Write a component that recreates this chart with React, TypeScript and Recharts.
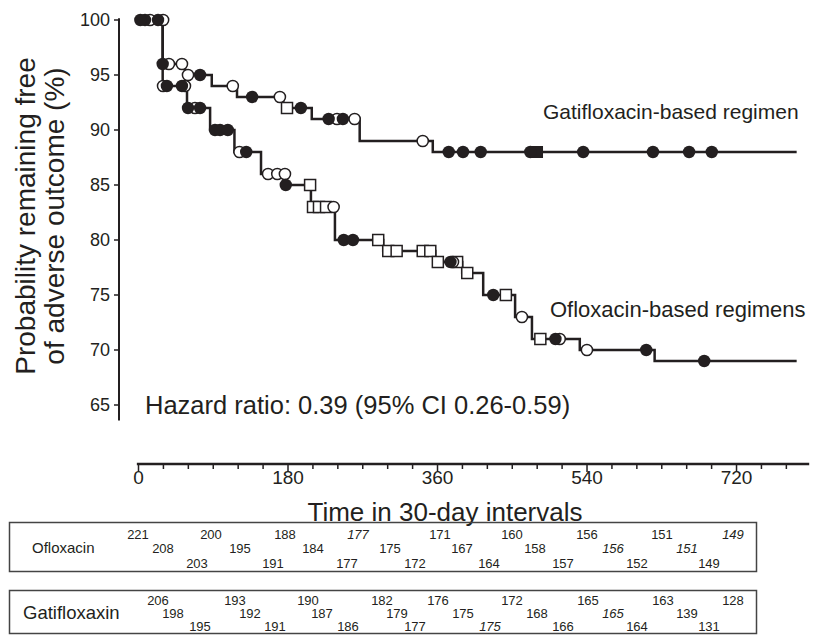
import React from 'react';
import { ComposedChart, Line, Scatter, XAxis, YAxis, ReferenceLine } from 'recharts';

const INK = '#231f20';
const FONT = '"Liberation Sans", Arial, Helvetica, sans-serif';

// Kaplan-Meier steps: time (days) where the level starts, % free of adverse outcome
const gatiTimes = [0, 29.1, 55.9, 88.2, 118.6, 174.2, 208.6, 266.3, 354.3, 792.4];
const gatiValues = [100, 96, 95, 94, 93, 92, 91, 89, 88, 88];
const ofloxTimes = [0, 29.1, 58.4, 86.2, 115.5, 147.5, 176.3, 207.6, 236.5, 294.6, 357.3, 389.7, 415, 453.4, 473.7, 531.3, 621.4, 792.4];
const ofloxValues = [100, 94, 92, 90, 88, 86, 85, 83, 80, 79, 78, 77, 75, 73, 71, 70, 69, 69];

// censoring marks [time, %]
const gatiDots = [[2.2, 100], [23.5, 100], [29.1, 96], [74.1, 95], [136.8, 93], [195.5, 92], [228.9, 91], [246.1, 91], [373.5, 88], [390.7, 88], [412, 88], [471.7, 88], [535.4, 88], [619.4, 88], [662.9, 88], [690.2, 88]];
const gatiCircles = [[29.6, 100], [36.6, 96], [52.3, 96], [59.6, 95], [113.5, 94], [170.2, 93], [239, 91], [260.2, 91], [342.2, 89]];
const gatiSquares = [[178.8, 92]];
const gatiSolidSquares = [[479.8, 88]];
const ofloxDots = [[7.8, 100], [34.2, 94], [52.3, 94], [59.6, 92], [74.1, 92], [92.1, 90], [98.2, 90], [107.5, 90], [129.7, 88], [177.3, 85], [247.1, 80], [258.2, 80], [375.6, 78], [427.1, 75], [502, 71], [611.3, 70], [681.1, 69]];
const ofloxCircles = [[13.9, 100], [29.6, 94], [55.9, 94], [68, 92], [121.6, 88], [156, 86], [167.1, 86], [176.3, 86], [234.9, 83], [378.6, 78], [461.6, 73], [507.1, 71], [539.9, 70]];
const ofloxSquares = [[206.6, 85], [210.1, 83], [217.3, 83], [225.8, 83], [288.6, 80], [300.7, 79], [310.8, 79], [342.2, 79], [351.3, 79], [360.4, 78], [383.6, 78], [395.8, 77], [442.3, 75], [483.8, 71]];

const xTicks = [0, 30, 60, 90, 120, 150, 180, 210, 240, 270, 300, 330, 360, 390, 420, 450, 480, 510, 540, 570, 600, 630, 660, 690, 720, 750, 780];
const yTicks = [65, 70, 75, 80, 85, 90, 95, 100];

// numbers at risk, three staggered rows each
const ofloxTop = [221, 200, 188, 177, 171, 160, 156, 151, 149];
const ofloxMid = [208, 195, 184, 175, 167, 158, 156, 151];
const ofloxLow = [203, 191, 177, 172, 164, 157, 152, 149];
const gatiTop = [206, 193, 190, 182, 176, 172, 165, 163, 128];
const gatiMid = [198, 192, 187, 179, 175, 168, 165, 139];
const gatiLow = [195, 191, 186, 177, 175, 166, 164, 131];

// x positions of the table numbers
const ofloxTopX = [138, 211, 285, 358, 440, 512, 587, 662, 733];
const ofloxMidX = [163, 240, 313, 390, 462, 535, 613, 687];
const ofloxLowX = [197, 273, 347, 415, 489, 563, 637, 709];
const gatiTopX = [158, 235, 308, 382, 438, 512, 588, 663, 733];
const gatiMidX = [173, 250, 322, 397, 463, 537, 613, 687];
const gatiLowX = [200, 275, 348, 415, 490, 563, 637, 709];

const toSteps = (ts: number[], vs: number[]) => ts.map((t, i) => ({ t, v: vs[i] }));
const toPts = (arr: number[][]) => arr.map(([t, v]) => ({ t, v }));

const Y_MIN = 100 - 444 / 11;
const X_MIN = -23.48;
const X_MAX = 807.5;

const dotShape = (p: any) => <circle cx={p.cx} cy={p.cy} r={6.2} fill={INK} />;
const ringShape = (p: any) => <circle cx={p.cx} cy={p.cy} r={5.6} fill="#fff" stroke={INK} strokeWidth={1.5} />;
const squareShape = (p: any) => (
  <rect x={p.cx - 5.5} y={p.cy - 5.5} width={11} height={11} fill="#fff" stroke={INK} strokeWidth={1.5} />
);
const solidSquareShape = (p: any) => (
  <rect x={p.cx - 6} y={p.cy - 6} width={12} height={12} fill={INK} />
);

const XTick = (props: any) => {
  const { x, y, payload } = props;
  const major = payload.value % 180 === 0;
  return (
    <g>
      <line x1={x} y1={y} x2={x} y2={y + (major ? 8 : 5)} stroke={INK} strokeWidth={1.5} />
      {major && (
        <text x={x} y={y + 20} textAnchor="middle" fontSize={19} fill={INK} fontFamily={FONT}>
          {payload.value}
        </text>
      )}
    </g>
  );
};

function RiskRow({ values, xs, y, italic }: { values: number[]; xs: number[]; y: number; italic: number[] }) {
  return (
    <>
      {values.map((n, i) => (
        <text key={i} x={xs[i]} y={y} textAnchor="middle" fontSize={13} fill={INK} fontStyle={italic.includes(i) ? 'italic' : 'normal'}>
          {n}
        </text>
      ))}
    </>
  );
}

export default function App() {
  return (
    <div style={{ position: 'absolute', left: 0, top: 0, width: 813, height: 635, background: '#fff', fontFamily: FONT }}>
      <ComposedChart width={813} height={540} margin={{ top: 20, right: 3.8, bottom: 0, left: 0 }}>
        <XAxis
          type="number"
          dataKey="t"
          domain={[X_MIN, X_MAX]}
          ticks={xTicks}
          interval={0}
          axisLine={false}
          tickLine={false}
          tickSize={0}
          tickMargin={0}
          height={76}
          tick={<XTick />}
        />
        <YAxis
          type="number"
          dataKey="v"
          domain={[Y_MIN, 100]}
          ticks={yTicks}
          interval={0}
          width={119}
          axisLine={false}
          tickSize={5}
          tickMargin={4}
          tickLine={{ stroke: INK, strokeWidth: 1.5 }}
          tick={{ fill: INK, fontSize: 18, fontFamily: FONT }}
        />
        <ReferenceLine
          segment={[{ x: X_MIN, y: 63.6 }, { x: X_MIN, y: 100.15 }]}
          stroke={INK}
          strokeWidth={2}
          ifOverflow="visible"
        />
        <ReferenceLine
          segment={[{ x: -2, y: Y_MIN }, { x: X_MAX, y: Y_MIN }]}
          stroke={INK}
          strokeWidth={2.5}
          ifOverflow="visible"
        />
        <Line data={toSteps(gatiTimes, gatiValues)} dataKey="v" type="stepAfter" stroke={INK} strokeWidth={2.5} dot={false} isAnimationActive={false} />
        <Line data={toSteps(ofloxTimes, ofloxValues)} dataKey="v" type="stepAfter" stroke={INK} strokeWidth={2.5} dot={false} isAnimationActive={false} />
        <Scatter data={toPts(ofloxSquares)} dataKey="v" shape={squareShape} isAnimationActive={false} />
        <Scatter data={toPts(gatiSquares)} dataKey="v" shape={squareShape} isAnimationActive={false} />
        <Scatter data={toPts(gatiSolidSquares)} dataKey="v" shape={solidSquareShape} isAnimationActive={false} />
        <Scatter data={toPts(ofloxCircles)} dataKey="v" shape={ringShape} isAnimationActive={false} />
        <Scatter data={toPts(gatiCircles)} dataKey="v" shape={ringShape} isAnimationActive={false} />
        <Scatter data={toPts(ofloxDots)} dataKey="v" shape={dotShape} isAnimationActive={false} />
        <Scatter data={toPts(gatiDots)} dataKey="v" shape={dotShape} isAnimationActive={false} />
      </ComposedChart>

      <svg width={813} height={635} style={{ position: 'absolute', left: 0, top: 0, pointerEvents: 'none' }} fontFamily={FONT}>
        <text transform="translate(35,216) rotate(-90)" textAnchor="middle" fontSize={28} fill={INK}>
          Probability remaining free
        </text>
        <text transform="translate(64,216) rotate(-90)" textAnchor="middle" fontSize={28} fill={INK}>
          of adverse outcome (%)
        </text>
        <text x={145} y={414} fontSize={25.5} fill={INK}>Hazard ratio: 0.39 (95% CI 0.26-0.59)</text>
        <text x={543} y={119} fontSize={21} fill={INK}>Gatifloxacin-based regimen</text>
        <text x={550} y={317} fontSize={22} fill={INK}>Ofloxacin-based regimens</text>
        <text x={445} y={521} textAnchor="middle" fontSize={26} fill={INK}>Time in 30-day intervals</text>

        <rect x={9.5} y={522.5} width={747} height={49} fill="none" stroke="#444" strokeWidth={1.5} />
        <text x={32} y={553} fontSize={15} fill={INK}>Ofloxacin</text>
        <RiskRow values={ofloxTop} xs={ofloxTopX} y={539} italic={[3, 8]} />
        <RiskRow values={ofloxMid} xs={ofloxMidX} y={553} italic={[6, 7]} />
        <RiskRow values={ofloxLow} xs={ofloxLowX} y={568} italic={[]} />

        <rect x={9.5} y={590.5} width={747} height={43} fill="none" stroke="#444" strokeWidth={1.5} />
        <text x={23} y={619} fontSize={18.5} fill={INK}>Gatifloxaxin</text>
        <RiskRow values={gatiTop} xs={gatiTopX} y={605} italic={[]} />
        <RiskRow values={gatiMid} xs={gatiMidX} y={618} italic={[6]} />
        <RiskRow values={gatiLow} xs={gatiLowX} y={631} italic={[4]} />
      </svg>
    </div>
  );
}
